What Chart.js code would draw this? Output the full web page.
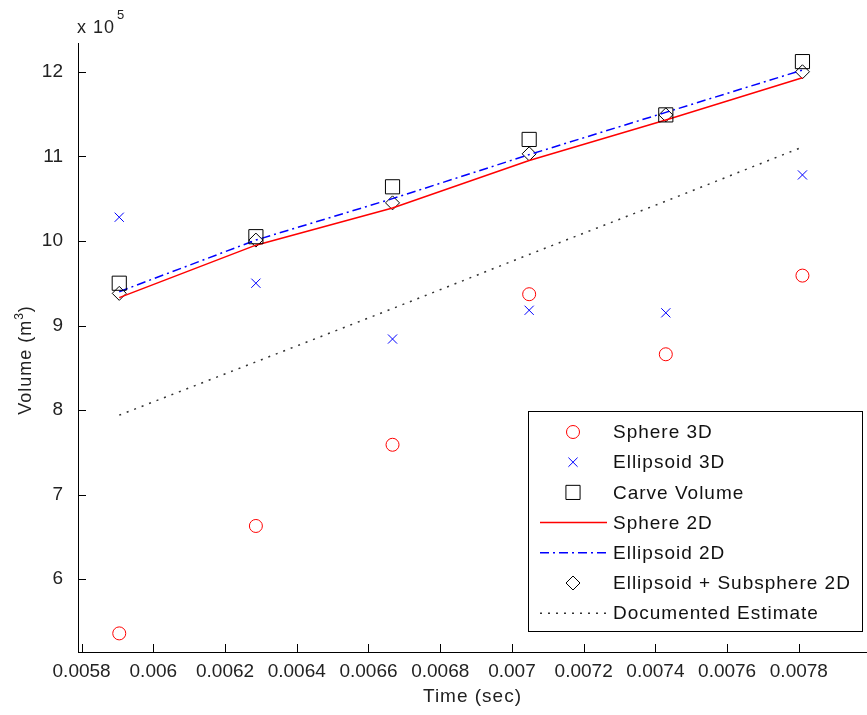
<!DOCTYPE html>
<html>
<head>
<meta charset="utf-8">
<script src="https://cdn.jsdelivr.net/npm/chart.js@4/dist/chart.umd.min.js"></script>
<style>
  html, body { margin: 0; padding: 0; background: #fff; }
  #wrap { width: 867px; height: 715px; }
</style>
</head>
<body>
<div id="wrap"><canvas id="volumeChart" width="867" height="715"></canvas></div>
<script>
// data (volumes in units of 10^5 m^3)
// =================================
const times = [0.005905, 0.006286, 0.006667, 0.007048, 0.007429, 0.00781];

const sphere3D = [5.36, 6.63, 7.59, 9.37, 8.66, 9.59];
const ellipsoid3D = [10.28, 9.50, 8.84, 9.18, 9.15, 10.78];
const carveVolume = [9.50, 10.05, 10.64, 11.20, 11.49, 12.12];
const sphere2D = [9.33, 9.95, 10.39, 10.95, 11.43, 11.93];
const ellipsoid2D = [9.40, 10.01, 10.50, 11.02, 11.52, 12.02];
const ellipsoidSub2D = [9.38, 10.01, 10.45, 11.03, 11.49, 12.00];
const documented = [7.94, 8.57, 9.20, 9.84, 10.47, 11.11];

const xTicks = [0.0058, 0.006, 0.0062, 0.0064, 0.0066, 0.0068, 0.007, 0.0072, 0.0074, 0.0076, 0.0078];
const xTickLabels = ['0.0058', '0.006', '0.0062', '0.0064', '0.0066', '0.0068', '0.007', '0.0072', '0.0074', '0.0076', '0.0078'];
const yTicks = [6, 7, 8, 9, 10, 11, 12];

const FONT = '"Liberation Sans", Arial, sans-serif';
const TEXT = '#222';

function pts(values) {
  return values.map((v, i) => ({ x: times[i], y: v }));
}

function spaced(ctx, px) {
  if ('letterSpacing' in ctx) ctx.letterSpacing = px + 'px';
}

// matlab style axes: inward ticks, labels, exponent, legend box
// =================================
const matlabAxes = {
  id: 'matlabAxes',
  afterDraw(chart) {
    const { ctx, chartArea, scales } = chart;
    const xs = scales.x, ys = scales.y;
    ctx.save();
    ctx.strokeStyle = '#000';
    ctx.lineWidth = 1;
    ctx.beginPath();
    xTicks.forEach(v => {
      const px = Math.round(xs.getPixelForValue(v)) + 0.5;
      ctx.moveTo(px, chartArea.bottom);
      ctx.lineTo(px, chartArea.bottom - 8);
    });
    yTicks.forEach(v => {
      const py = Math.round(ys.getPixelForValue(v)) + 0.5;
      ctx.moveTo(chartArea.left, py);
      ctx.lineTo(chartArea.left + 8, py);
    });
    ctx.stroke();

    ctx.fillStyle = TEXT;
    spaced(ctx, 1);

    // exponent
    ctx.textBaseline = 'alphabetic';
    ctx.textAlign = 'left';
    ctx.font = '18px ' + FONT;
    ctx.fillText('x 10', 77, 33);
    ctx.font = '13px ' + FONT;
    ctx.fillText('5', 117, 19);

    // x title
    ctx.font = '19px ' + FONT;
    ctx.textAlign = 'center';
    ctx.textBaseline = 'middle';
    ctx.fillText('Time (sec)', (chartArea.left + chartArea.right) / 2, 697);

    // y title with superscript
    ctx.save();
    ctx.translate(26, 360);
    ctx.rotate(-Math.PI / 2);
    ctx.textAlign = 'left';
    ctx.font = '18px ' + FONT;
    const t1 = 'Volume (m';
    const w1 = ctx.measureText(t1).width;
    ctx.font = '12px ' + FONT;
    const w2 = ctx.measureText('3').width;
    ctx.font = '18px ' + FONT;
    const w3 = ctx.measureText(')').width;
    const start = -(w1 + w2 + w3) / 2;
    ctx.fillText(t1, start, 0);
    ctx.font = '12px ' + FONT;
    ctx.fillText('3', start + w1, -6);
    ctx.font = '18px ' + FONT;
    ctx.fillText(')', start + w1 + w2, 0);
    ctx.restore();

    // legend
    const box = { x: 528.5, y: 411.5, w: 334, h: 220 };
    ctx.fillStyle = '#fff';
    ctx.fillRect(box.x, box.y, box.w, box.h);
    ctx.strokeStyle = '#000';
    ctx.lineWidth = 1;
    ctx.strokeRect(box.x, box.y, box.w, box.h);

    const drawPoint = Chart.helpers && Chart.helpers.drawPoint;
    chart.data.datasets.forEach((ds, i) => {
      const cy = 432 + i * 30.2;
      if (ds.showLine) {
        ctx.save();
        ctx.strokeStyle = ds.borderColor;
        ctx.lineWidth = ds.borderWidth;
        ctx.setLineDash(ds.borderDash || []);
        ctx.beginPath();
        ctx.moveTo(540, cy);
        ctx.lineTo(607, cy);
        ctx.stroke();
        ctx.restore();
      }
      if (ds.pointRadius > 0 && drawPoint) {
        ctx.save();
        ctx.strokeStyle = ds.pointBorderColor;
        ctx.fillStyle = 'rgba(0,0,0,0)';
        ctx.lineWidth = ds.pointBorderWidth;
        drawPoint(ctx, { pointStyle: ds.pointStyle, radius: ds.pointRadius, borderWidth: ds.pointBorderWidth, rotation: 0 }, 573, cy);
        ctx.restore();
      }
      ctx.fillStyle = '#111';
      ctx.font = '19px ' + FONT;
      ctx.textAlign = 'left';
      ctx.textBaseline = 'middle';
      ctx.fillText(ds.label, 613, cy + 1);
    });
    ctx.restore();
  }
};

function markers(label, values, style, color, radius) {
  return {
    label: label,
    data: pts(values),
    showLine: false,
    pointStyle: style,
    pointRadius: radius,
    pointBorderColor: color,
    pointBackgroundColor: 'rgba(0,0,0,0)',
    pointBorderWidth: 1,
    borderColor: color,
    borderWidth: 0
  };
}

function line(label, values, color, width, dash) {
  return {
    label: label,
    data: pts(values),
    showLine: true,
    borderColor: color,
    borderWidth: width,
    borderDash: dash,
    pointRadius: 0,
    pointBorderWidth: 0,
    tension: 0
  };
}

const ctx = document.getElementById('volumeChart').getContext('2d');
const volumeChart = new Chart(ctx, {
  type: 'scatter',
  data: {
    datasets: [
      markers('Sphere 3D', sphere3D, 'circle', '#ff0000', 6.5),
      markers('Ellipsoid 3D', ellipsoid3D, 'crossRot', '#0000ff', 6.5),
      markers('Carve Volume', carveVolume, 'rect', '#000000', 10),
      line('Sphere 2D', sphere2D, '#ff0000', 1.5, []),
      line('Ellipsoid 2D', ellipsoid2D, '#0000ff', 1.5, [9, 4, 2, 4]),
      markers('Ellipsoid + Subsphere 2D', ellipsoidSub2D, 'rectRot', '#000000', 7),
      line('Documented Estimate', documented, '#333333', 1.5, [2, 6])
    ]
  },
  options: {
    responsive: false,
    animation: false,
    devicePixelRatio: 1,
    layout: { autoPadding: false, padding: { top: 43, right: 0, left: 0, bottom: 0 } },
    plugins: { legend: { display: false }, tooltip: { enabled: false } },
    scales: {
      x: {
        type: 'linear',
        min: 0.00579,
        max: 0.00799,
        afterBuildTicks: s => { s.ticks = xTicks.map(v => ({ value: v })); },
        afterFit: s => { s.height = 63; s.paddingLeft = 0; s.paddingRight = 0; },
        grid: { display: false },
        border: { display: true, color: '#000', width: 1 },
        ticks: {
          color: TEXT,
          font: { family: FONT, size: 19 },
          padding: 0,
          maxRotation: 0,
          autoSkip: false,
          callback: (v, i) => xTickLabels[i]
        }
      },
      y: {
        type: 'linear',
        min: 5.14,
        max: 12.34,
        afterBuildTicks: s => { s.ticks = yTicks.map(v => ({ value: v })); },
        afterFit: s => { s.width = 78; s.paddingTop = 0; s.paddingBottom = 0; },
        grid: { display: false },
        border: { display: true, color: '#000', width: 1 },
        ticks: {
          color: TEXT,
          font: { family: FONT, size: 19 },
          padding: 7,
          autoSkip: false,
          callback: v => String(v)
        }
      }
    }
  },
  plugins: [matlabAxes]
});
</script>
</body>
</html>
